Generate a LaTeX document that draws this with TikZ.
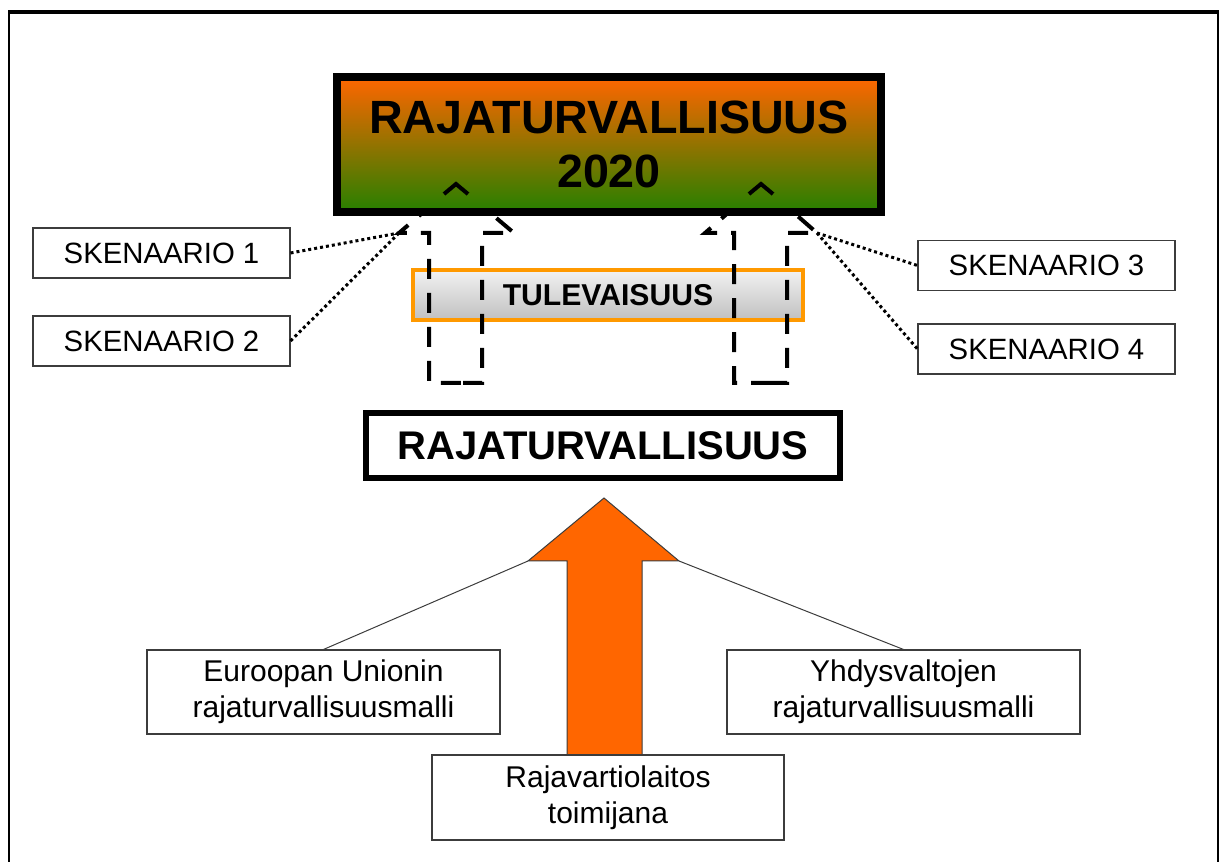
\documentclass[tikz,border=0pt]{standalone}
\usepackage{fontspec}
\setmainfont{Liberation Sans}
\usetikzlibrary{calc}
\definecolor{goaltop}{RGB}{255,102,0}
\definecolor{goalbot}{RGB}{38,128,0}
\definecolor{arrowfill}{RGB}{255,102,0}
\definecolor{futureline}{RGB}{255,153,0}
\definecolor{futuretop}{RGB}{242,242,242}
\definecolor{futurebot}{RGB}{192,192,192}
\definecolor{boxline}{RGB}{60,60,60}
\begin{document}
\begin{tikzpicture}[x=0.75pt,y=-0.75pt,
  labelbox/.style={draw=boxline, line width=0.8pt, fill=white, inner sep=0pt, align=center},
  skbox/.style={labelbox, minimum width=192.75pt, minimum height=37.5pt, font=\fontsize{22}{27}\selectfont},
  modelbox/.style={labelbox, minimum width=264.75pt, minimum height=63pt, font=\fontsize{22.5}{27}\selectfont},
  scenlink/.style={line width=2.25pt, dash pattern=on 2.25pt off 2.25pt},
  pathoutline/.style={line width=3pt, dash pattern=on 15pt off 10.5pt},
  caret/.style={line width=3pt},
  thinlink/.style={line width=0.75pt, draw=boxline},
]
\useasboundingbox (0,0) rectangle (1221,862);

% outer frame
\draw[line width=1.5pt] (9,862) -- (9,12) -- (1218,12) -- (1218,862);
\draw[line width=3pt] (8,12) -- (1219,12);

% future band
\node (fut) [draw=futureline, line width=3pt, top color=futuretop, bottom color=futurebot,
  minimum width=292.5pt, minimum height=37.5pt, inner sep=0pt,
  font=\bfseries\fontsize{22.6}{27}\selectfont] at (608,295) {TULEVAISUUS};

% dashed scenario paths
\coordinate (lApex) at (456,184);
\coordinate (lHead) at (399,233);
\coordinate (rApex) at (761,184);
\coordinate (rHead) at (817,233);
\draw[pathoutline] (463,383) -- (482,383) -- (482,233) -- (514,233) -- (lApex) -- (lHead)
  -- (429,233) -- (429,383) -- cycle;
\draw[pathoutline] (768,383) -- (787,383) -- (787,233) -- (rHead) -- (rApex) -- (705,233)
  -- (734,233) -- (734,383) -- cycle;

% goal box
\node (goal) [draw=black, line width=6pt, top color=goaltop, bottom color=goalbot,
  minimum width=408pt, minimum height=101.25pt, inner sep=0pt, align=center,
  font=\bfseries\fontsize{35}{41}\selectfont] at (609,144.5) {RAJATURVALLISUUS\\2020};
\draw[caret] (lApex) ++(-12,10) -- (lApex) -- ++(12,10);
\draw[caret] (rApex) ++(-12,10) -- (rApex) -- ++(12,10);

% scenarios
\node (sk1) [skbox] at (161.5,253) {SKENAARIO 1};
\node (sk2) [skbox] at (161.5,341) {SKENAARIO 2};
\node (sk3) [skbox] at (1046.5,265.5) {SKENAARIO 3};
\node (sk4) [skbox] at (1046.5,349) {SKENAARIO 4};
\draw[scenlink] (sk1.east) -- (lHead);
\draw[scenlink] (sk2.east) -- (lHead);
\draw[scenlink] (rHead) -- (sk3.west);
\draw[scenlink] (rHead) -- (sk4.west);

% present state
\node (now) [draw=black, line width=4.5pt, fill=white, minimum width=355.5pt,
  minimum height=48.75pt, inner sep=0pt,
  font=\bfseries\fontsize{30}{36}\selectfont] at (603,445.5) {RAJATURVALLISUUS};

% big arrow
\coordinate (hl) at (528,561);
\coordinate (hr) at (679,561);
\filldraw[fill=arrowfill, draw=boxline, line width=0.75pt]
  (567,770) -- (567,561) -- (hl) -- (604,498) -- (hr) -- (642,561) -- (642,770) -- cycle;

% models
\node (eu) [modelbox] at (323.5,692) {Euroopan Unionin\\rajaturvallisuusmalli};
\node (yh) [modelbox] at (903.5,692) {Yhdysvaltojen\\rajaturvallisuusmalli};
\node (rv) [modelbox, minimum width=264pt, minimum height=63.75pt] at (608,797.5) {Rajavartiolaitos\\toimijana};
\draw[thinlink] (hl) -- (eu.north);
\draw[thinlink] (hr) -- (yh.north);
\end{tikzpicture}
\end{document}
